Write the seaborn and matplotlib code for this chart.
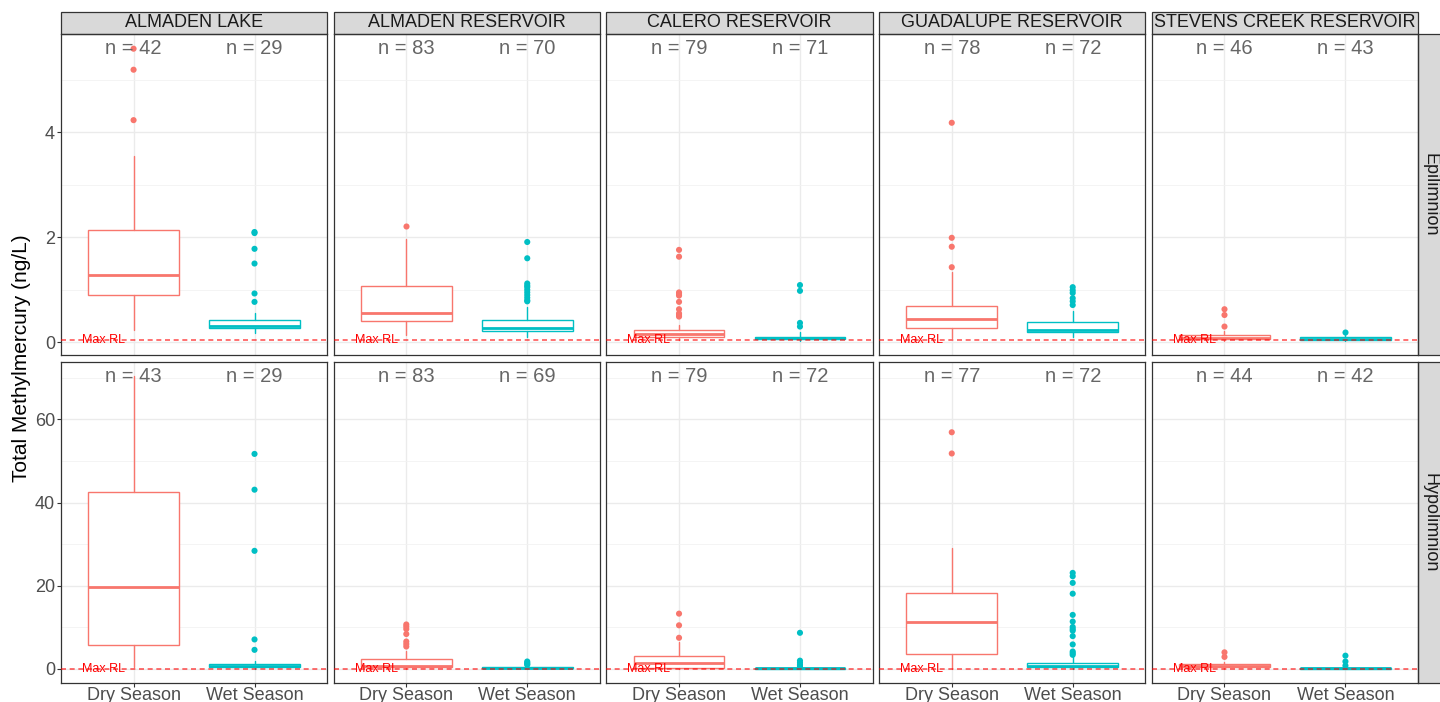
import numpy as np
import pandas as pd
import matplotlib
matplotlib.use("Agg")
import matplotlib.pyplot as plt
import seaborn as sns
from matplotlib.patches import Rectangle

reservoirs = ["ALMADEN LAKE", "ALMADEN RESERVOIR", "CALERO RESERVOIR",
              "GUADALUPE RESERVOIR", "STEVENS CREEK RESERVOIR"]
layers = ["Epilimnion", "Hypolimnion"]
seasons = ["Dry Season", "Wet Season"]
season_colors = ["#F8766D", "#00BFC4"]
max_rl = 0.05

# sample counts, per layer -> per reservoir -> (dry, wet)
n_counts = [
    [(42, 29), (83, 70), (79, 71), (78, 72), (46, 43)],
    [(43, 29), (83, 69), (79, 72), (77, 72), (44, 42)],
]

# box summaries in ng/L, same nesting as n_counts
q1 = [
    [(0.90, 0.27), (0.41, 0.22), (0.10, 0.06), (0.27, 0.19), (0.06, 0.05)],
    [(5.7, 0.4), (0.4, 0.15), (0.25, 0.1), (3.5, 0.4), (0.4, 0.1)],
]
med = [
    [(1.29, 0.32), (0.56, 0.27), (0.15, 0.08), (0.44, 0.23), (0.08, 0.07)],
    [(19.7, 0.6), (0.8, 0.3), (1.4, 0.15), (11.4, 0.7), (0.7, 0.15)],
]
q3 = [
    [(2.14, 0.43), (1.07, 0.43), (0.23, 0.11), (0.70, 0.38), (0.13, 0.11)],
    [(42.6, 1.1), (2.3, 0.5), (3.1, 0.3), (18.3, 1.35), (1.1, 0.25)],
]
whisk_lo = [
    [(0.23, 0.18), (0.13, 0.11), (0.04, 0.03), (0.08, 0.10), (0.03, 0.03)],
    [(0.4, 0.1), (0.05, 0.05), (0.05, 0.05), (0.1, 0.1), (0.1, 0.05)],
]
whisk_hi = [
    [(3.55, 0.55), (1.97, 0.68), (0.33, 0.20), (1.33, 0.60), (0.22, 0.15)],
    [(70.4, 2.0), (4.4, 0.9), (6.4, 0.6), (29.2, 3.0), (1.6, 0.5)],
]

# outliers
outliers = [
    [
        ([4.23, 5.19, 5.59], [0.77, 0.93, 1.50, 1.78, 2.08, 2.10]),
        ([2.22], [0.78, 0.80, 0.85, 0.90, 0.95, 1.00, 1.05, 1.08, 1.12, 1.60, 1.91]),
        ([0.49, 0.52, 0.55, 0.63, 0.77, 0.89, 0.92, 0.95, 1.63, 1.76], [0.30, 0.37, 0.98, 1.09]),
        ([1.43, 1.82, 1.99, 4.18], [0.71, 0.78, 0.84, 0.94, 0.99, 1.05]),
        ([0.30, 0.52, 0.63], [0.20]),
    ],
    [
        ([], [4.6, 7.1, 28.4, 43.1, 51.7]),
        ([5.4, 6.0, 6.6, 8.4, 9.6, 10.2, 10.7], [1.0, 1.2, 1.5, 1.8]),
        ([7.5, 10.5, 13.3], [0.7, 1.0, 1.5, 2.0, 8.7]),
        ([51.8, 56.9], [3.4, 3.8, 4.2, 5.9, 7.9, 9.2, 9.6, 10.1, 11.4, 13.0, 18.1, 20.7, 22.3, 23.1]),
        ([2.9, 4.0], [0.8, 1.8, 3.2]),
    ],
]

row_ylim = [(-0.25, 5.87), (-3.37, 73.9)]
row_major = [[0, 2, 4], [0, 20, 40, 60]]
row_minor = [[1, 3, 5], [10, 30, 50, 70]]

sns.set_theme(style="white")
plt.rcParams["font.family"] = ["Liberation Sans", "DejaVu Sans"]

fig, axes = plt.subplots(2, 5, figsize=(14.4, 7.02), dpi=100, sharey="row")
fig.subplots_adjust(left=61 / 1440, right=1418 / 1440, top=1 - 34 / 702,
                    bottom=1 - 683 / 702, wspace=0.025, hspace=0.019)

grey_line = "#333333"
for r, layer in enumerate(layers):
    # label height for the n counts: top of the row's data
    row_max = max(max(max(o) for o in pair if o) if any(pair) else 0
                  for pair in outliers[r])
    row_max = max(row_max, max(max(w) for w in whisk_hi[r]))
    for c, res in enumerate(reservoirs):
        ax = axes[r, c]
        stats = []
        for s in range(2):
            stats.append(dict(q1=q1[r][c][s], med=med[r][c][s], q3=q3[r][c][s],
                              whislo=whisk_lo[r][c][s], whishi=whisk_hi[r][c][s],
                              fliers=[]))
        bp = ax.bxp(stats, positions=[0, 1], widths=0.75, showcaps=False,
                    showfliers=False, patch_artist=True, manage_ticks=False,
                    zorder=3)
        for s in range(2):
            col = season_colors[s]
            bp["boxes"][s].set(facecolor="white", edgecolor=col, linewidth=1.0, alpha=1)
            bp["medians"][s].set(color=col, linewidth=2.0)
            for w in bp["whiskers"][2 * s:2 * s + 2]:
                w.set(color=col, linewidth=1.0)

        pts = pd.DataFrame({
            "season": [seasons[s] for s in range(2) for _ in outliers[r][c][s]],
            "value": [v for s in range(2) for v in outliers[r][c][s]],
        })
        sns.stripplot(data=pts, x="season", y="value", hue="season",
                      order=seasons, hue_order=seasons, palette=season_colors,
                      jitter=False, size=4.4, linewidth=0, legend=False,
                      ax=ax, zorder=4)

        ax.axhline(max_rl, color="red", alpha=0.65, linewidth=1.2,
                   dashes=(3, 2.2), zorder=5)
        ax.text(-0.25, max_rl, "Max RL", color="red", fontsize=9,
                ha="center", va="center", zorder=6)
        for s in range(2):
            ax.text(s, row_max, f"n = {n_counts[r][c][s]}", color="#666666",
                    fontsize=14.5, ha="center", va="center", zorder=6)

        ax.set_xlim(-0.6, 1.6)
        ax.set_ylim(*row_ylim[r])
        ax.set_yticks(row_major[r])
        ax.set_yticks(row_minor[r], minor=True)
        ax.set_xticks([0, 1])
        ax.set_xticklabels(seasons)
        ax.set_xlabel("")
        ax.set_ylabel("")
        ax.set_facecolor("white")
        ax.grid(True, which="major", color="#EBEBEB", linewidth=1.0, zorder=0)
        ax.grid(True, which="minor", axis="y", color="#F2F2F2", linewidth=0.6, zorder=0)
        ax.set_axisbelow(True)
        for sp in ax.spines.values():
            sp.set_color(grey_line)
            sp.set_linewidth(0.9)
            sp.set_visible(True)

        ax.tick_params(axis="both", which="major", labelsize=13,
                       labelcolor="#4D4D4D", color=grey_line, length=2.75,
                       width=0.8, pad=1.5)
        ax.tick_params(axis="x", which="major", pad=0)
        ax.tick_params(axis="y", which="minor", length=0)
        ax.tick_params(axis="x", bottom=(r == 1), labelbottom=(r == 1))
        ax.tick_params(axis="y", left=(c == 0), labelleft=(c == 0))

        if r == 0:
            h = 22 / 321
            ax.add_patch(Rectangle((0, 1), 1, h, transform=ax.transAxes,
                                   clip_on=False, facecolor="#D9D9D9",
                                   edgecolor=grey_line, linewidth=0.9))
            ax.text(0.5, 1 + h / 2, res, transform=ax.transAxes, fontsize=13,
                    color="#1A1A1A", ha="center", va="center")
        if c == len(reservoirs) - 1:
            w = 23 / 266
            ax.add_patch(Rectangle((1, 0), w, 1, transform=ax.transAxes,
                                   clip_on=False, facecolor="#D9D9D9",
                                   edgecolor=grey_line, linewidth=0.9))
            ax.text(1 + w / 2, 0.5, layer, transform=ax.transAxes, fontsize=13,
                    color="#1A1A1A", ha="center", va="center", rotation=-90)

fig.text(0.0146, 1 - 358.5 / 702, "Total Methylmercury (ng/L)", rotation=90,
         fontsize=15, color="black", ha="center", va="center")

fig.savefig("out.png", dpi=100)
